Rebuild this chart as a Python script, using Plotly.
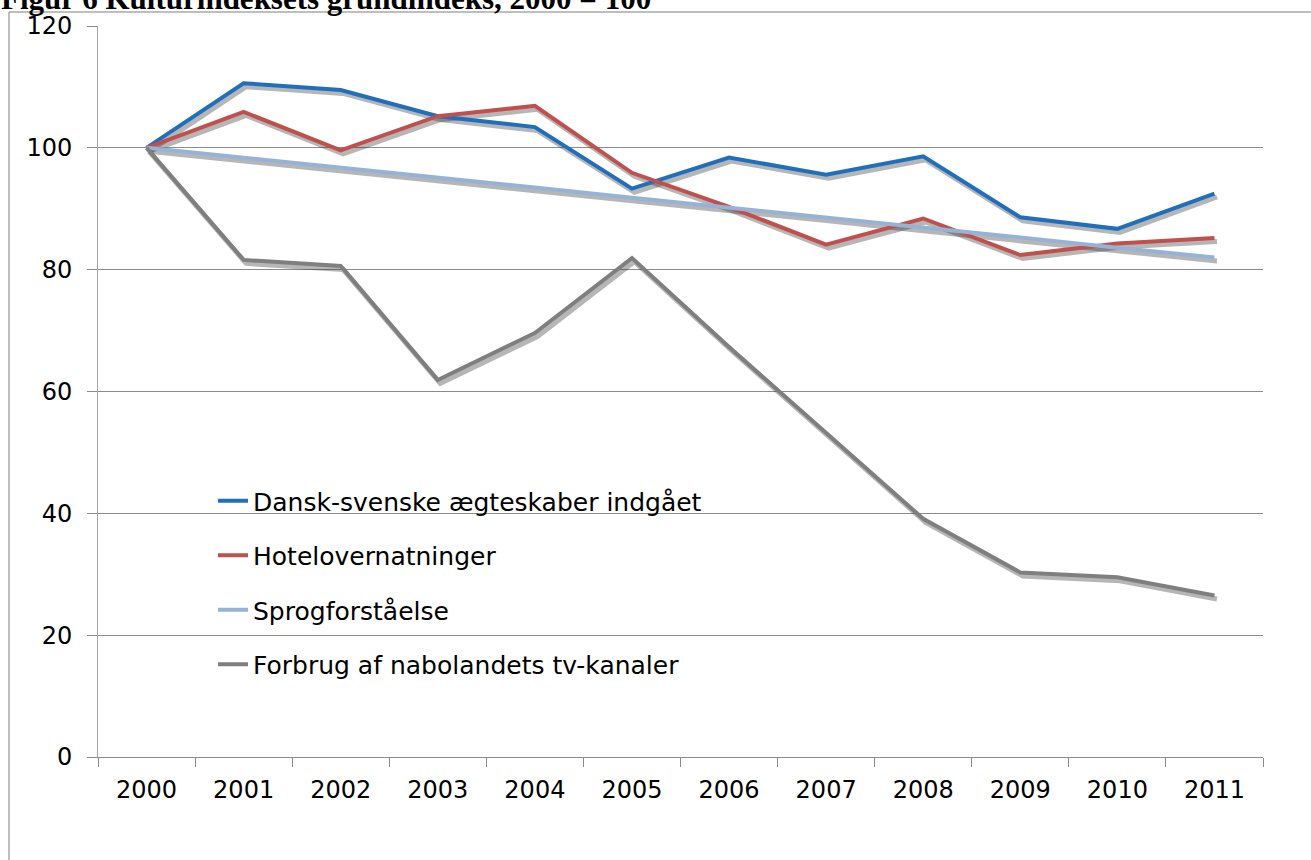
import plotly.graph_objects as go

years = ["2000", "2001", "2002", "2003", "2004", "2005", "2006", "2007", "2008", "2009", "2010", "2011"]
aegteskaber = [100, 110.6, 109.5, 105.2, 103.4, 93.3, 98.4, 95.6, 98.6, 88.6, 86.7, 92.5]
hotel = [100, 105.9, 99.6, 105.2, 106.9, 95.9, 90.3, 84.1, 88.4, 82.4, 84.3, 85.2]
sprog = [100, 98.4, 96.8, 95.1, 93.5, 91.8, 90.2, 88.6, 86.9, 85.3, 83.6, 82.0]
tv = [100, 81.6, 80.6, 61.9, 69.6, 81.9, 67.3, 53.3, 39.1, 30.3, 29.5, 26.5]

names = ["Dansk-svenske ægteskaber indgået", "Hotelovernatninger", "Sprogforståelse",
         "Forbrug af nabolandets tv-kanaler"]
series = [aegteskaber, hotel, sprog, tv]
colors = ["#1f6fbd", "#c0504d", "#95b3d7", "#7f7f7f"]

FONT = "DejaVu Sans, Verdana, sans-serif"
W, H = 1311, 860
ML, MR, MT, MB = 98, 48, 26, 103
PW = W - ML - MR
PH = H - MT - MB

fig = go.Figure()

# invisible trace to anchor the visible axes
fig.add_trace(go.Scatter(x=years, y=aegteskaber, xaxis="x", yaxis="y", mode="lines",
                         line=dict(width=0), opacity=0, showlegend=False, hoverinfo="skip"))

# shadows (drawn on slightly shifted axes)
for s in series:
    fig.add_trace(go.Scatter(x=years, y=s, xaxis="x2", yaxis="y2", mode="lines",
                             line=dict(color="rgba(40,40,40,0.34)", width=5),
                             showlegend=False, hoverinfo="skip"))

# main lines
for i, (n, s, c) in enumerate(zip(names, series, colors)):
    fig.add_trace(go.Scatter(x=years, y=s, xaxis="x3", yaxis="y3", mode="lines", name=n,
                             legendgroup=f"g{i}", line=dict(color=c, width=4)))

dx = 2.5 / (PW / 12)   # category shift for shadow
dy = 3.5 / (PH / 120)  # value shift for shadow

fig.update_layout(
    width=W, height=H,
    margin=dict(l=ML, r=MR, t=MT, b=MB),
    paper_bgcolor="white", plot_bgcolor="white",
    font=dict(family=FONT, size=24, color="black"),
    xaxis=dict(type="category", categoryorder="array", categoryarray=years,
               range=[-0.5, 11.5], tickson="boundaries", ticks="outside", ticklen=9,
               tickcolor="#8c8c8c", showline=True, linecolor="#8c8c8c", linewidth=1,
               showgrid=False, zeroline=False, tickfont=dict(size=24), ticklabelstandoff=11,
               automargin=False),
    yaxis=dict(range=[0, 120], dtick=20, tick0=0, ticks="outside", ticklen=10,
               tickcolor="#8c8c8c", showline=True, linecolor="#a6a6a6", linewidth=1,
               showgrid=True, gridcolor="#8c8c8c", gridwidth=1, zeroline=False,
               tickfont=dict(size=24), ticklabelstandoff=10, automargin=False),
    xaxis2=dict(type="category", categoryorder="array", categoryarray=years,
                range=[-0.5 - dx, 11.5 - dx], overlaying="x", visible=False),
    yaxis2=dict(range=[0 + dy, 120 + dy], overlaying="y", visible=False, anchor="x2"),
    xaxis3=dict(type="category", categoryorder="array", categoryarray=years,
                range=[-0.5, 11.5], overlaying="x", visible=False),
    yaxis3=dict(range=[0, 120], overlaying="y", visible=False, anchor="x3"),
    legend=dict(x=(213 - ML) / PW, y=(H - MB - 478) / PH, xanchor="left", yanchor="top",
                bgcolor="rgba(0,0,0,0)", font=dict(size=25, family=FONT),
                tracegroupgap=19, itemwidth=30),
    showlegend=True,
)

# outer chart border (extends past the page on right and bottom)
fig.add_shape(type="rect", xref="paper", yref="paper",
              x0=(9 - ML) / PW, x1=1.2, y0=-0.3, y1=(H - MB - 12) / PH,
              line=dict(color="#7f7f7f", width=1), fillcolor="rgba(0,0,0,0)", layer="below")

# clipped figure title at the top
fig.add_annotation(text="<b>Figur 6 Kulturindeksets grundindeks, 2000 = 100</b>",
                   xref="paper", yref="paper", x=(-1 - ML) / PW, y=(H - MB - 18) / PH,
                   xanchor="left", yanchor="bottom", showarrow=False,
                   font=dict(family="Liberation Serif, Times New Roman, serif", size=31,
                             color="black"))

fig.write_html("out.html", config={"displayModeBar": False},
               post_script="document.body.style.margin='0px';")
